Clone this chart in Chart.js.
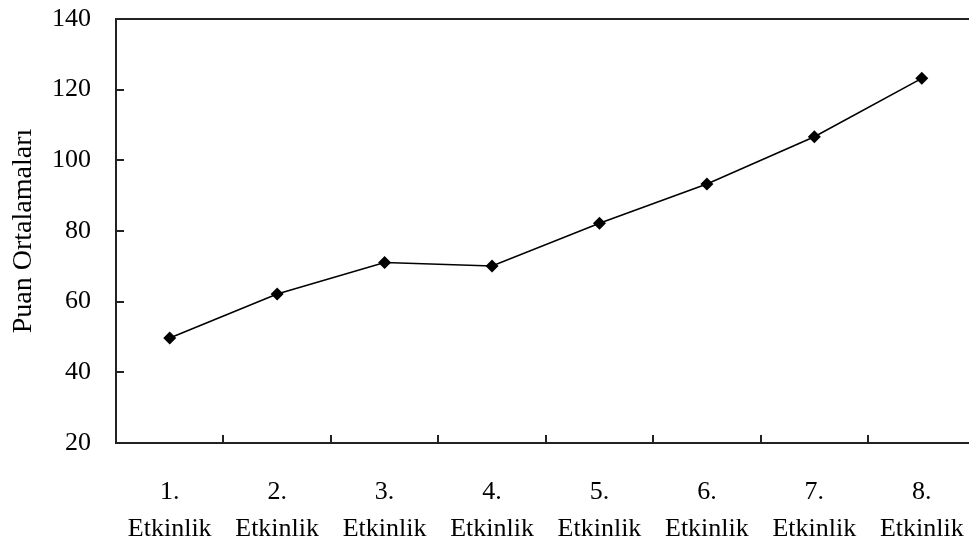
<!DOCTYPE html>
<html>
<head>
<meta charset="utf-8">
<script src="https://cdn.jsdelivr.net/npm/chart.js@4/dist/chart.umd.min.js"></script>
<style>
  html, body { margin: 0; padding: 0; background: #fff; overflow: hidden; }
  #wrap { position: absolute; left: 0; top: 0; width: 982px; height: 549px; }
</style>
</head>
<body>
<div id="wrap"><canvas id="c" width="982" height="549"></canvas></div>
<script>
// ---- data ----
const categories = [
  ['1.', 'Etkinlik'], ['2.', 'Etkinlik'], ['3.', 'Etkinlik'], ['4.', 'Etkinlik'],
  ['5.', 'Etkinlik'], ['6.', 'Etkinlik'], ['7.', 'Etkinlik'], ['8.', 'Etkinlik']
];
const scores = [49.7, 62.2, 71.1, 70.1, 82.2, 93.3, 106.7, 123.2];
const yTitle = 'Puan Ortalamaları';
const yMin = 20, yMax = 140, yStep = 20;

const FONT = "'Liberation Serif', 'Times New Roman', serif";

function zeroPad(s) {
  s.paddingLeft = 0; s.paddingRight = 0; s.paddingTop = 0; s.paddingBottom = 0;
}

const frameAndTicks = {
  id: 'frameAndTicks',
  afterDraw(chart) {
    const ctx = chart.ctx;
    const a = chart.chartArea;
    const xs = chart.scales.x, ys = chart.scales.y;
    ctx.save();
    ctx.strokeStyle = '#222';
    ctx.lineWidth = 2;
    ctx.strokeRect(a.left, a.top, a.right - a.left, a.bottom - a.top);
    ctx.beginPath();
    ys.ticks.forEach((t, i) => {
      const y = Math.round(ys.getPixelForTick(i));
      ctx.moveTo(a.left, y);
      ctx.lineTo(a.left + 8, y);
    });
    for (let i = 1; i < categories.length; i++) {
      const x = Math.round((xs.getPixelForValue(i - 1) + xs.getPixelForValue(i)) / 2);
      ctx.moveTo(x, a.bottom);
      ctx.lineTo(x, a.bottom - 8);
    }
    ctx.stroke();
    ctx.restore();
  }
};

new Chart(document.getElementById('c'), {
  type: 'line',
  data: {
    labels: categories,
    datasets: [{
      data: scores,
      borderColor: '#000',
      backgroundColor: '#000',
      borderWidth: 1.6,
      pointStyle: 'rectRot',
      pointRadius: 6.5,
      pointBorderWidth: 0,
      tension: 0,
      fill: false
    }]
  },
  options: {
    responsive: false,
    animation: false,
    devicePixelRatio: 1,
    layout: { padding: { top: 19, right: 0, left: 0, bottom: 0 } },
    plugins: { legend: { display: false }, tooltip: { enabled: false } },
    scales: {
      x: {
        offset: true,
        grid: { display: false, drawTicks: false },
        border: { display: false },
        ticks: {
          color: '#000',
          padding: 30,
          maxRotation: 0,
          autoSkip: false,
          font: { family: FONT, size: 26, lineHeight: 1.45 }
        },
        afterFit(s) { s.height = 106; zeroPad(s); }
      },
      y: {
        min: yMin, max: yMax,
        grid: { display: false, drawTicks: false },
        border: { display: false },
        ticks: {
          stepSize: yStep,
          color: '#000',
          padding: 25,
          font: { family: FONT, size: 26 }
        },
        title: {
          display: true,
          text: yTitle,
          color: '#000',
          padding: { top: 7, bottom: 0 },
          font: { family: FONT, size: 28 }
        },
        afterFit(s) { s.width = 116; zeroPad(s); }
      }
    }
  },
  plugins: [frameAndTicks]
});
</script>
</body>
</html>
